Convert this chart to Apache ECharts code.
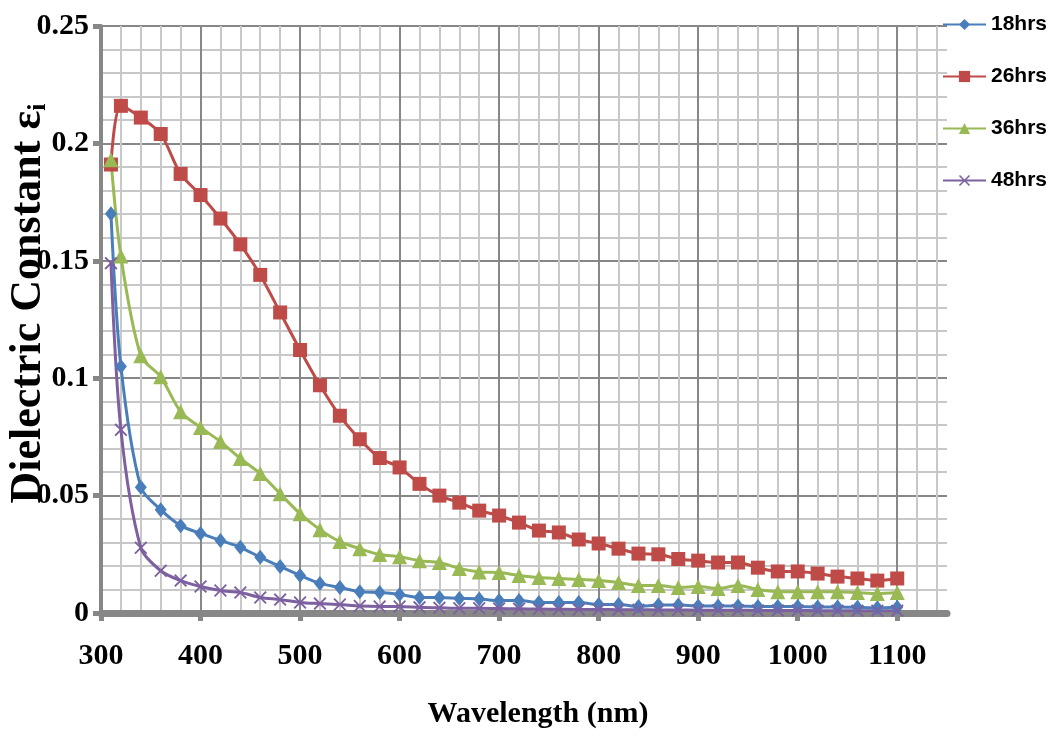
<!DOCTYPE html>
<html><head><meta charset="utf-8">
<script src="https://cdn.jsdelivr.net/npm/echarts@6/dist/echarts.min.js"></script>
<style>html,body{margin:0;padding:0;background:#fff}#c{width:1049px;height:738px}</style>
</head><body><div id="c"></div>
<script>
const wavelength = [310,320,340,360,380,400,420,440,460,480,500,520,540,560,580,600,620,640,660,680,700,720,740,760,780,800,820,840,860,880,900,920,940,960,980,1000,1020,1040,1060,1080,1100];
const hrs18 = [0.170,0.105,0.0536,0.044,0.0372,0.0339,0.0309,0.028,0.0237,0.0198,0.016,0.0126,0.0109,0.0091,0.0087,0.0079,0.0066,0.0066,0.0062,0.006,0.0053,0.0053,0.0045,0.0045,0.0045,0.0036,0.0036,0.0028,0.0034,0.0034,0.003,0.003,0.003,0.0028,0.0028,0.0028,0.0026,0.0026,0.0024,0.0022,0.0025];
const hrs26 = [0.191,0.216,0.211,0.204,0.187,0.178,0.168,0.157,0.144,0.128,0.112,0.097,0.084,0.074,0.066,0.062,0.055,0.050,0.047,0.0436,0.0415,0.0385,0.0351,0.0343,0.0313,0.0296,0.0274,0.0253,0.025,0.023,0.0223,0.0215,0.0215,0.0193,0.0177,0.0177,0.0168,0.0155,0.0147,0.0138,0.0147];
const hrs36 = [0.193,0.152,0.1096,0.1006,0.0857,0.079,0.073,0.0658,0.0594,0.0508,0.0423,0.0355,0.0304,0.0274,0.0249,0.024,0.0223,0.0215,0.019,0.0175,0.0172,0.016,0.0151,0.0147,0.0143,0.0138,0.013,0.0117,0.0117,0.0109,0.0113,0.0104,0.0117,0.010,0.0091,0.0091,0.0091,0.0091,0.0087,0.0083,0.0087];
const hrs48 = [0.149,0.078,0.0278,0.018,0.0138,0.0113,0.0096,0.0087,0.0066,0.0057,0.0045,0.004,0.0036,0.003,0.0028,0.0028,0.0024,0.0022,0.002,0.002,0.0019,0.0018,0.0017,0.0016,0.0015,0.0015,0.0014,0.0014,0.0013,0.0013,0.0012,0.0012,0.0012,0.0011,0.0011,0.0011,0.001,0.001,0.001,0.001,0.001];
const seriesNames = ['18hrs','26hrs','36hrs','48hrs'];
const xTickLabels = [300,400,500,600,700,800,900,1000,1100];
const yTickLabels = [0,0.05,0.1,0.15,0.2,0.25];

const chart = echarts.init(document.getElementById('c'));
const pairs = ys => wavelength.map((x,i)=>[x, ys[i]]);
const serif = "'Liberation Serif','Times New Roman',serif";
const X_PATH = 'path://M0,1L1,0L5,4L9,0L10,1L6,5L10,9L9,10L5,6L1,10L0,9L4,5Z';
const major = '#878787', minor = '#c8c8c8';
const gridColors = [major, minor, minor, minor, minor];
const X_MIN = 300, X_MAX = 1150, Y_MIN = 0, Y_MAX = 0.25;

function mk(name, ys, symbol, size, color) {
  return {name, type:'line', data:pairs(ys), smooth:0.3, symbol, symbolSize:size,
    xAxisIndex:0, yAxisIndex:0,
    showAllSymbol:true, lineStyle:{color, width:3}, itemStyle:{color}};
}
const fmt = v => String(+(+v).toFixed(4));

chart.setOption({
  animation:false,
  backgroundColor:'#fff',
  grid:{left:101, right:102, top:26, bottom:125, outerBoundsMode:'none', containLabel:false},
  legend:{orient:'vertical', left:942, top:14, padding:0, itemWidth:43, itemHeight:14, itemGap:31,
    data:seriesNames,
    textStyle:{fontFamily:"'Liberation Sans',sans-serif", fontSize:21, fontWeight:'bold', color:'#000'}},
  xAxis:[
    {type:'value', min:X_MIN, max:X_MAX, interval:20, position:'bottom',
      axisLine:{show:false}, axisTick:{show:false}, axisLabel:{show:false},
      splitLine:{show:true, showMaxLine:false, lineStyle:{color:gridColors, width:2}}},
    {type:'value', min:X_MIN, max:X_MAX, interval:100, position:'bottom',
      name:'Wavelength (nm)', nameLocation:'middle', nameGap:86,
      nameTextStyle:{fontFamily:serif, fontWeight:'bold', fontSize:30, color:'#000', padding:[0,0,0,28]},
      axisLine:{show:true, onZero:false, lineStyle:{color:major, width:7}},
      axisTick:{show:true, customValues:xTickLabels, length:8, lineStyle:{color:major, width:5}},
      axisLabel:{customValues:xTickLabels, margin:28, fontFamily:serif, fontWeight:'bold', fontSize:30, color:'#000', formatter:fmt},
      splitLine:{show:false}}
  ],
  yAxis:[
    {type:'value', min:Y_MIN, max:Y_MAX, interval:0.01, position:'left',
      axisLine:{show:false}, axisTick:{show:false}, axisLabel:{show:false},
      splitLine:{show:true, lineStyle:{color:gridColors, width:2}}},
    {type:'value', min:Y_MIN, max:Y_MAX, interval:0.05, position:'left',
      name:'Dielectric Constant ε{sub|i}', nameLocation:'middle', nameGap:50, nameMoveOverlap:false,
      nameTextStyle:{fontFamily:serif, fontWeight:'bold', fontSize:44, color:'#000', padding:[0,0,0,32],
        rich:{sub:{fontFamily:serif, fontWeight:'bold', fontSize:26, color:'#000', verticalAlign:'bottom', padding:[16,0,0,0]}}},
      axisLine:{show:true, onZero:false, lineStyle:{color:major, width:4}},
      axisTick:{show:true, customValues:yTickLabels, length:8, lineStyle:{color:major, width:5}},
      axisLabel:{customValues:yTickLabels, margin:12, fontFamily:serif, fontWeight:'bold', fontSize:30, color:'#000', formatter:fmt},
      splitLine:{show:false}}
  ],
  series:[
    mk(seriesNames[0], hrs18, 'diamond', [12,15], '#4A7EBB'),
    mk(seriesNames[1], hrs26, 'rect', 14, '#BE4B48'),
    mk(seriesNames[2], hrs36, 'triangle', 15, '#98B954'),
    mk(seriesNames[3], hrs48, X_PATH, 13, '#7D60A0')
  ]
});
</script></body></html>
